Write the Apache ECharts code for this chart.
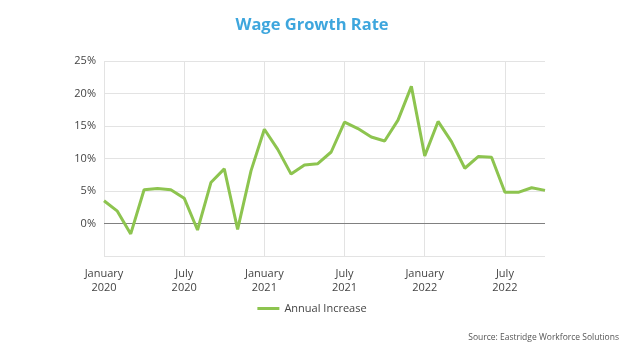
<!DOCTYPE html>
<html>
<head>
<meta charset="utf-8">
<script src="https://cdn.jsdelivr.net/npm/echarts@6/dist/echarts.min.js"></script>
<style>
  html, body { margin: 0; padding: 0; background: #fff; }
  #main { width: 624px; height: 351px; }
</style>
</head>
<body>
<div id="main"></div>
<script>
// monthly labels, Jan 2020 .. Oct 2022
var months = ["January", "February", "March", "April", "May", "June",
  "July", "August", "September", "October", "November", "December"];
var years = ["2020", "2021", "2022"];
var categories = [];
years.forEach(function (y) {
  months.forEach(function (m) {
    categories.push(m + "\n" + y);
  });
});
categories = categories.slice(0, 34);

// annual increase, percent
var annualIncrease = [
  3.5, 1.9, -1.6, 5.2, 5.4, 5.2, 3.9, -1.0, 6.3, 8.4, -0.9, 8.1,
  14.5, 11.4, 7.6, 9.0, 9.2, 11.0, 15.6, 14.6, 13.3, 12.7, 15.9, 21.1,
  10.4, 15.7, 12.6, 8.5, 10.3, 10.2, 4.8, 4.8, 5.5, 5.1
];

var yTicks = { min: -5, max: 25, step: 5 };

var font = "Open Sans";
var chart = echarts.init(document.getElementById("main"));

chart.setOption({
  animation: false,
  title: {
    text: "Wage Growth Rate",
    left: "center",
    top: 12,
    textStyle: { color: "#3ea6dd", fontSize: 16.5, fontWeight: "bold", fontFamily: font }
  },
  grid: { left: 104, right: 79, top: 61, bottom: 95 },
  legend: {
    bottom: 32,
    left: "center",
    icon: "rect",
    itemWidth: 22,
    itemHeight: 3,
    textStyle: { color: "#444", fontSize: 11, fontFamily: font },
    data: ["Annual Increase"]
  },
  xAxis: {
    type: "category",
    data: categories,
    boundaryGap: false,
    axisLine: { show: false },
    axisTick: { show: false },
    axisLabel: {
      interval: 5,
      color: "#444",
      fontSize: 11,
      fontFamily: font,
      lineHeight: 14,
      margin: 11
    },
    splitLine: { show: true, interval: 5, lineStyle: { color: "#e3e3e3", width: 1 } }
  },
  yAxis: {
    type: "value",
    min: yTicks.min,
    max: yTicks.max,
    interval: yTicks.step,
    axisLine: { show: false },
    axisTick: { show: false },
    axisLabel: {
      color: "#444",
      fontSize: 11,
      fontFamily: font,
      margin: 8,
      formatter: function (v) { return v < 0 ? "" : v + "%"; }
    },
    splitLine: { lineStyle: { color: "#e3e3e3", width: 1 } }
  },
  graphic: [{
    type: "text",
    right: 5,
    top: 333,
    style: {
      text: "Source: Eastridge Workforce Solutions",
      fill: "#555",
      font: "8.5px 'Open Sans'"
    }
  }],
  series: [{
    name: "Annual Increase",
    type: "line",
    data: annualIncrease,
    symbol: "none",
    itemStyle: { color: "#8dc44f" },
    lineStyle: { color: "#8dc44f", width: 3 },
    markLine: {
      silent: true,
      symbol: "none",
      label: { show: false },
      lineStyle: { color: "#808080", type: "solid", width: 1.2 },
      data: [{ yAxis: 0 }],
      z: 1
    }
  }]
});
</script>
</body>
</html>
